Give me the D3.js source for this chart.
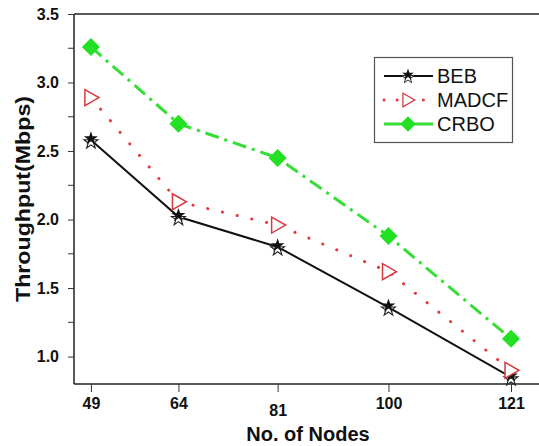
<!DOCTYPE html>
<html><head><meta charset="utf-8">
<script src="https://cdn.jsdelivr.net/npm/d3@7"></script>
<style>body{margin:0;background:#fff}svg{display:block}</style>
</head><body>
<svg id="c" width="539" height="446"></svg>
<script>
const nodes = [49, 64, 81, 100, 121];
const beb = [2.58, 2.02, 1.80, 1.36, 0.85];
const madcf = [2.89, 2.13, 1.96, 1.62, 0.90];
const crbo = [3.26, 2.70, 2.45, 1.88, 1.13];
const seriesNames = ["BEB", "MADCF", "CRBO"];
const yMajor = [1.0, 1.5, 2.0, 2.5, 3.0, 3.5];
const yMinor = [1.25, 1.75, 2.25, 2.75, 3.25];

const svg = d3.select("#c");
const L = 74, R = 539, T = 14, B = 384;
const x = d3.scaleLinear().domain([46.1, 125.8]).range([L, R]);
const y = d3.scaleLinear().domain([0.8, 3.5]).range([B, T]);
const font = "Liberation Sans, Arial, sans-serif";

// top border
svg.append("line").attr("x1", L).attr("x2", R).attr("y1", T).attr("y2", T)
  .attr("stroke", "#222").attr("stroke-width", 1.5);

// y axis
const ya = svg.append("g").attr("transform", `translate(${L},0)`)
  .call(d3.axisLeft(y).tickValues(yMajor).tickFormat(d3.format(".1f")).tickSize(6).tickPadding(9));
ya.select(".domain").attr("d", `M0,${T}V${B}`).attr("stroke", "#222").attr("stroke-width", 1.5);
ya.selectAll(".tick line").attr("stroke", "#333");
ya.selectAll("text").attr("font-family", font).attr("font-weight", "bold").attr("font-size", 16).attr("fill", "#111");
svg.append("g").attr("transform", `translate(${L},0)`)
  .selectAll("line").data(yMinor).join("line")
  .attr("x1", -6).attr("x2", 0).attr("y1", d => y(d)).attr("y2", d => y(d)).attr("stroke", "#333");

// x axis
const xa = svg.append("g").attr("transform", `translate(0,${B})`)
  .call(d3.axisBottom(x).tickValues(nodes).tickFormat(d3.format("d")).tickSize(8).tickPadding(6));
xa.select(".domain").attr("d", `M${L},0H${R}`).attr("stroke", "#222").attr("stroke-width", 1.5);
xa.selectAll(".tick line").attr("stroke", "#333");
xa.selectAll("text").attr("font-family", font).attr("font-weight", "bold").attr("font-size", 16).attr("fill", "#111")
  .attr("dy", d => d === 81 ? "1.1em" : "0.71em");

// titles
svg.append("text").attr("x", 308).attr("y", 441).attr("text-anchor", "middle")
  .attr("font-family", font).attr("font-weight", "bold").attr("font-size", 20).attr("fill", "#111").text("No. of Nodes");
svg.append("text").attr("transform", "translate(30,199) rotate(-90)").attr("text-anchor", "middle")
  .attr("font-family", font).attr("font-weight", "bold").attr("font-size", 21).attr("fill", "#111")
  .attr("textLength", 206).attr("lengthAdjust", "spacingAndGlyphs").text("Throughput(Mbps)");

const line = d3.line().x(d => x(d[0])).y(d => y(d[1]));
const styles = [
  {data: beb, color: "#111", width: 2, dash: null, cap: "butt"},
  {data: madcf, color: "#e23a3f", width: 3, dash: "0.1,15", cap: "round"},
  {data: crbo, color: "#35dd35", width: 3, dash: "14,6,3,6", cap: "butt"}
];
styles.forEach(s => {
  svg.append("path").datum(nodes.map((n, i) => [n, s.data[i]]))
    .attr("d", line).attr("fill", "none").attr("stroke", s.color)
    .attr("stroke-width", s.width).attr("stroke-dasharray", s.dash).attr("stroke-linecap", s.cap);
});

const star = d3.symbol().type(d3.symbolStar).size(60);
const tri = "M-6,-8L8,0L-6,8Z";
const diamond = "M0,-9L9,0L0,9L-9,0Z";

function drawMarker(g, k) {
  if (k === 0) {
    g.append("path").attr("d", star()).attr("transform", "translate(0,2)").attr("fill", "#fff").attr("stroke", "#222").attr("stroke-width", 1.1);
    g.append("path").attr("d", star()).attr("transform", "translate(0,-1.5)").attr("fill", "#111");
  } else if (k === 1) {
    g.append("path").attr("d", tri).attr("fill", "#fff").attr("stroke", "#d63a40").attr("stroke-width", 1.5);
  } else {
    g.append("path").attr("d", diamond).attr("fill", "#22e022");
  }
}
styles.forEach((s, k) => {
  nodes.forEach((n, i) => {
    drawMarker(svg.append("g").attr("transform", `translate(${x(n)},${y(s.data[i])})`), k);
  });
});

// legend
const lg = svg.append("g");
lg.append("rect").attr("x", 374.5).attr("y", 57.5).attr("width", 138).attr("height", 85)
  .attr("fill", "#fff").attr("stroke", "#555").attr("stroke-width", 1.2);
seriesNames.forEach((name, k) => {
  const yy = 76 + k * 24;
  const s = styles[k];
  lg.append("line").attr("x1", 384).attr("x2", 433).attr("y1", yy).attr("y2", yy)
    .attr("stroke", s.color).attr("stroke-width", s.width)
    .attr("stroke-dasharray", k === 1 ? "0.1,13" : null).attr("stroke-linecap", s.cap);
  drawMarker(lg.append("g").attr("transform", `translate(408,${yy}) scale(0.85)`), k);
  lg.append("text").attr("x", 437).attr("y", yy + 7).attr("font-family", font).attr("font-size", 20)
    .attr("fill", "#111").text(name);
});
</script>
</body></html>
